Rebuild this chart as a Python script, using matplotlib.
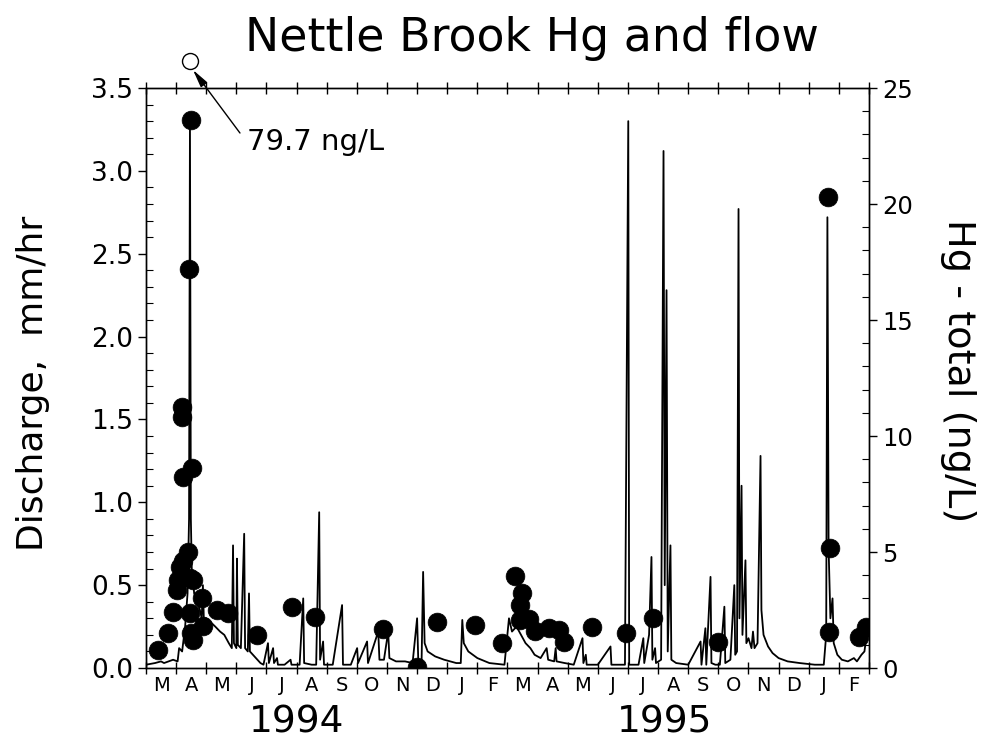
import numpy as np
import matplotlib
matplotlib.use('Agg')
import matplotlib.pyplot as plt
import matplotlib.transforms as mtransforms
from matplotlib.ticker import MultipleLocator, FormatStrFormatter

plt.rcParams['font.family'] = ['DejaVu Sans']

# x is in months counted from 1 March 1994
month_labels = ['M', 'A', 'M', 'J', 'J', 'A', 'S', 'O', 'N', 'D', 'J', 'F',
                'M', 'A', 'M', 'J', 'J', 'A', 'S', 'O', 'N', 'D', 'J', 'F']
year_labels = ['1994', '1995']
year_pos = [5.0, 17.2]

# discharge, mm/hr
flow_t = [0.0, 0.3, 0.5, 0.6, 0.9, 1.05, 1.1, 1.2, 1.3, 1.38, 1.43, 1.46, 1.49, 1.52,
          1.6, 1.7, 1.79, 1.85, 1.89, 1.92, 2.0, 2.13, 2.3, 2.46, 2.6, 2.75, 2.85,
          2.89, 2.92, 3.0, 3.02, 3.05, 3.15, 3.26, 3.29, 3.38, 3.42, 3.45, 3.55, 3.7,
          3.8, 3.9, 4.05, 4.08, 4.22, 4.25, 4.35, 4.38, 4.6, 4.8, 4.83, 5.1, 5.22,
          5.25, 5.5, 5.65, 5.75, 5.78, 5.88, 5.91, 6.2, 6.51, 6.54, 6.8, 7.01, 7.04,
          7.34, 7.37, 7.71, 7.75, 7.9, 8.04, 8.08, 8.3, 8.6, 8.85, 9.0, 9.04, 9.15,
          9.2, 9.25, 9.35, 9.6, 9.9, 10.3, 10.45, 10.5, 10.55, 10.7, 11.0, 11.4,
          11.9, 12.05, 12.15, 12.3, 12.45, 12.6, 12.76, 12.9, 13.1, 13.3, 13.35,
          13.55, 13.6, 13.63, 13.9, 14.2, 14.49, 14.52, 14.6, 14.63, 15.0, 15.42,
          15.45, 15.9, 16.01, 16.04, 16.35, 16.51, 16.54, 16.7, 16.78, 16.81, 16.9,
          16.93, 17.1, 17.18, 17.22, 17.28, 17.32, 17.41, 17.44, 17.6, 18.0, 18.41,
          18.44, 18.57, 18.6, 18.74, 18.77, 18.9, 19.05, 19.2, 19.23, 19.4, 19.53,
          19.56, 19.62, 19.67, 19.7, 19.77, 19.8, 19.9, 19.93, 20.0, 20.1, 20.15,
          20.2, 20.3, 20.4, 20.43, 20.5, 20.65, 20.8, 21.0, 21.3, 21.7, 22.2, 22.5,
          22.58, 22.62, 22.66, 22.72, 22.79, 22.83, 22.95, 23.1, 23.3, 23.5, 23.6,
          23.75, 23.85, 23.92, 24.0]
flow_q = [0.02, 0.03, 0.04, 0.03, 0.05, 0.04, 0.12, 0.1, 0.25, 0.45, 0.9, 3.3, 0.9, 0.6,
          0.45, 0.4, 0.35, 0.3, 0.5, 0.3, 0.3, 0.28, 0.25, 0.22, 0.2, 0.15, 0.12,
          0.74, 0.15, 0.12, 0.66, 0.14, 0.12, 0.81, 0.12, 0.1, 0.45, 0.1, 0.08, 0.05,
          0.03, 0.02, 0.15, 0.03, 0.12, 0.03, 0.06, 0.02, 0.02, 0.05, 0.02, 0.02, 0.42,
          0.03, 0.02, 0.02, 0.94, 0.05, 0.16, 0.02, 0.02, 0.38, 0.02, 0.02, 0.12, 0.03,
          0.16, 0.03, 0.22, 0.05, 0.05, 0.22, 0.06, 0.04, 0.04, 0.03, 0.3, 0.04, 0.05,
          0.58, 0.15, 0.1, 0.07, 0.05, 0.03, 0.03, 0.29, 0.15, 0.1, 0.06, 0.03,
          0.02, 0.3, 0.22, 0.25, 0.2, 0.15, 0.12, 0.08, 0.06, 0.12, 0.05,
          0.04, 0.12, 0.04, 0.03, 0.02, 0.18, 0.03, 0.08, 0.02, 0.02, 0.13,
          0.02, 0.02, 3.3, 0.02, 0.02, 0.18, 0.03, 0.2, 0.67, 0.05, 0.12,
          0.03, 0.05, 3.12, 0.5, 2.28, 0.1, 0.74, 0.05, 0.03, 0.02, 0.16,
          0.02, 0.24, 0.02, 0.55, 0.03, 0.02, 0.02, 0.37, 0.03, 0.05, 0.5,
          0.08, 0.1, 2.77, 0.3, 1.1, 0.2, 0.65, 0.15, 0.18, 0.12, 0.22,
          0.12, 0.15, 1.28, 0.35, 0.2, 0.13, 0.09, 0.06, 0.04, 0.03, 0.02, 0.02,
          0.2, 2.72, 0.72, 0.3, 0.42, 0.15, 0.08, 0.05, 0.04, 0.06, 0.04,
          0.08, 0.1, 0.2, 0.2]

# total Hg samples, ng/L
hg_t = [0.41, 0.74, 0.91, 1.02, 1.07, 1.13, 1.24, 1.41, 1.46, 1.56, 1.46, 1.5, 1.56,
        1.85, 1.9, 1.20, 1.20, 1.22, 1.52, 1.43, 1.50, 2.35, 2.73, 3.68, 4.84, 5.61,
        7.88, 8.99, 9.66, 10.93, 11.82, 12.24, 12.48, 12.43, 12.7, 12.43, 12.9,
        13.37, 13.70, 13.87, 14.81, 15.94, 16.83, 18.98, 22.64, 22.69, 22.67,
        23.66, 23.89]
hg_c = [0.78, 1.5, 2.43, 3.36, 3.8, 4.37, 4.6, 5.0, 3.87, 3.8, 2.37, 1.5, 1.2,
        3.0, 1.8, 11.26, 10.8, 8.25, 8.6, 17.2, 23.6, 2.5, 2.36, 1.42, 2.64, 2.21,
        1.67, 0.06, 2.0, 1.85, 1.09, 3.97, 3.25, 2.72, 2.1, 2.07, 1.6,
        1.71, 1.64, 1.13, 1.78, 1.49, 2.14, 1.13, 20.3, 5.16, 1.57,
        1.35, 1.78]

# one sample is off the scale
off_t = 1.46
off_label = '79.7 ng/L'


def plot_chart():
    fig = plt.figure(figsize=(9.81, 7.42), dpi=100)
    ax = fig.add_axes([0.1488, 0.0997, 0.7370, 0.7817])
    ax2 = ax.twinx()

    ax.plot(flow_t, flow_q, color='black', lw=1.3)
    ax.set_xlim(0, 24)
    ax.set_ylim(0, 3.5)

    ax2.plot(hg_t, hg_c, 'o', color='black', ms=13.5, mec='black', mew=0.5)
    ax2.set_ylim(0, 25)
    # off-scale value drawn above the frame, with a pointer
    ax2.plot([off_t], [26.16], 'o', mfc='white', mec='black', ms=11.5, mew=1,
             clip_on=False)
    ax2.annotate('', xy=(1.56, 25.78), xytext=(3.12, 23.06), annotation_clip=False,
                 arrowprops=dict(arrowstyle='-|>,head_width=0.2,head_length=0.9',
                                 color='black', lw=1, mutation_scale=12,
                                 shrinkA=0, shrinkB=0))
    ax2.text(3.36, 22.33, off_label, fontsize=21, ha='left', va='baseline')

    # y axes
    ax.yaxis.set_major_locator(MultipleLocator(0.5))
    ax.yaxis.set_minor_locator(MultipleLocator(0.1))
    ax.yaxis.set_major_formatter(FormatStrFormatter('%.1f'))
    ax.tick_params(axis='y', which='major', direction='out', length=6, width=1,
                   labelsize=19)
    ax.tick_params(axis='y', which='minor', direction='in', length=5, width=0.8)
    ax.set_ylabel('Discharge,  mm/hr', fontsize=26)
    ax.yaxis.set_label_coords(-0.133, 0.49)

    ax2.yaxis.set_major_locator(MultipleLocator(5))
    ax2.yaxis.set_minor_locator(MultipleLocator(1))
    ax2.tick_params(axis='y', which='major', direction='out', length=6, width=1,
                    labelsize=17.5)
    ax2.tick_params(axis='y', which='minor', direction='in', length=5, width=0.8)
    ax2.set_ylabel('Hg - total (ng/L)', fontsize=27.5, rotation=270, va='center')
    ax2.yaxis.set_label_coords(1.123, 0.512)

    # months
    ax.set_xticks(np.arange(0, 25))
    ax.set_xticklabels([])
    ax.set_xticks(np.arange(len(month_labels)) + 0.5, minor=True)
    ax.set_xticklabels(month_labels, minor=True, fontsize=14)
    ax.tick_params(axis='x', which='major', direction='inout', length=9, width=1,
                   top=True)
    ax.tick_params(axis='x', which='minor', length=0, pad=6)

    trans = mtransforms.blended_transform_factory(ax.transData, fig.transFigure)
    for lab, pos in zip(year_labels, year_pos):
        ax.text(pos, 0.002, lab, transform=trans, ha='center', va='bottom',
                fontsize=27)

    for a in (ax, ax2):
        for s in a.spines.values():
            s.set_linewidth(1)

    fig.text(0.542, 0.948, 'Nettle Brook Hg and flow', ha='center', va='center',
             fontsize=33)
    fig.savefig('out.png', dpi=100)


def main():
    plot_chart()


if __name__ == "__main__":
    main()
